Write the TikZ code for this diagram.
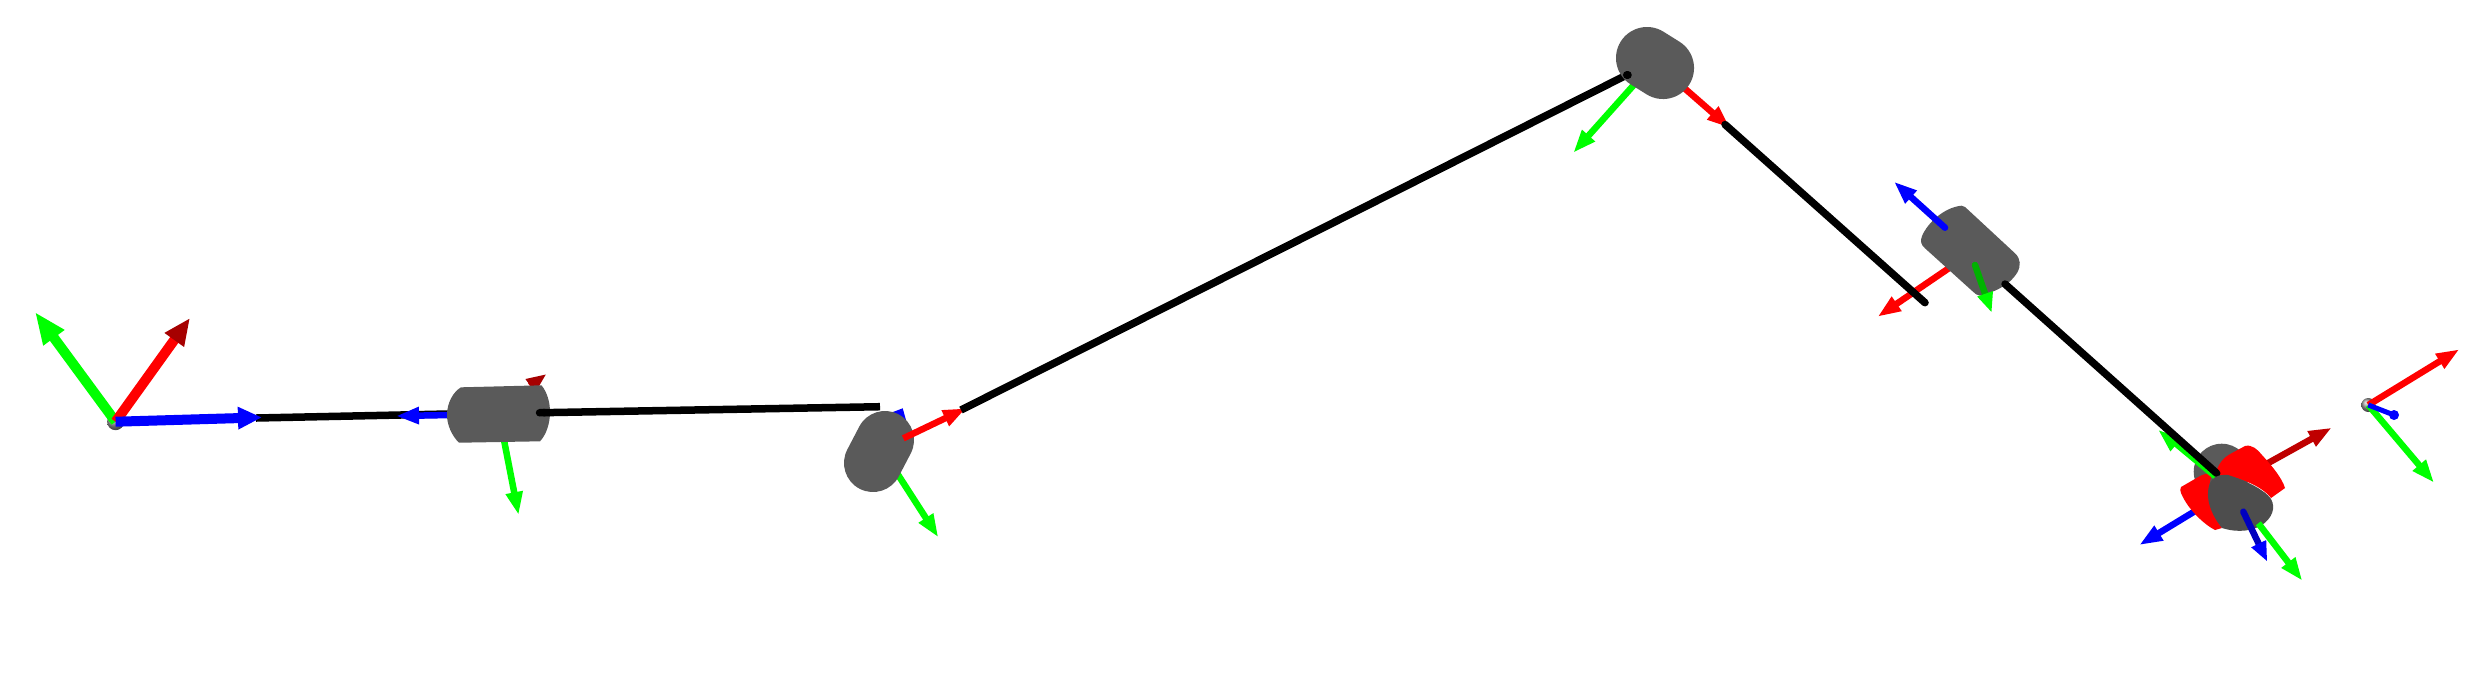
\documentclass[tikz,border=0pt]{standalone}
\usetikzlibrary{arrows.meta,shadings}
\tikzset{
  bigarrow/.style={line width=.1cm,-{Triangle[length=.32cm,width=.24cm]}},
  axisarrow/.style={line width=.065cm,-{Triangle[length=.23cm,width=.16cm]}},
  linkbar/.style={draw=black,line width=.075cm},
  motor/.style={fill=motorgray,draw=none},
  capsule/.style={draw=motorgray,line cap=round},
  tipball/.style={circle,inner sep=0pt,minimum size=.17cm,shading=ball,ball color=gray!80}
}
\definecolor{motorgray}{RGB}{90,90,90}
\definecolor{frontgray}{RGB}{77,77,77}
\begin{document}
\begin{tikzpicture}[x=.01cm,y=-.01cm]
   \useasboundingbox (0,0) rectangle (2488,690);
   \coordinate (baseTip) at (256,418);
   \coordinate (elbowA) at (535.8,412.8);
   \coordinate (elbowAend) at (880,406.7);
   \coordinate (elbowB) at (961,410);
   \coordinate (elbowC) at (1626.7,75);
   \coordinate (elbowD) at (1725,124.5);
   \coordinate (elbowE) at (1925,302.7);
   \coordinate (elbowF) at (2005,284);
   \coordinate (elbowG) at (2216.7,473.3);
   % base frame
   \node[tipball] (base) at (115.6,421.7) {};
   \draw[linkbar] (baseTip) -- (448,414);
   \begin{scope}[bigarrow]
    \draw[green] (base.center) -- (35,312);
    \draw[red,-{Triangle[length=.27cm,width=.22cm,color=red!65!black]}] (base.center) -- (190,318);
    \draw[blue,-{Triangle[length=.24cm,width=.21cm]}] (base.center) -- (262,417.4);
   \end{scope}
   % first joint
   \begin{scope}[axisarrow]
    \draw[blue] (450,415) -- (396,416);
    \draw[red,-{Triangle[length=.2cm,width=.15cm,color=red!65!black]}] (530,386) -- (546.5,374);
    \draw[green] (504,440) -- (518.6,515);
   \end{scope}
   \path[motor] (461,387.3) -- (541.5,385.3) .. controls (547,392) and (550,402) .. (550,412)
     .. controls (550,424) and (546,435) .. (540,441.3) -- (459,442.7)
     .. controls (452,436) and (447,425) .. (447,415) .. controls (447,403) and (453,392) .. (461,387.3) -- cycle;
   \draw[linkbar,{Round Cap[]}-] (elbowA) -- (elbowAend);
   % second joint
   \fill[blue] (885,415) -- (902.7,408.3) -- (906,420) -- cycle;
   \draw[axisarrow,green] (895,470) -- (938.3,537.3);
   \draw[capsule,line width=.58cm] (885,440) -- (873,463);
   \draw[axisarrow,red] (903.3,438.3) -- (966,408.3);
   \draw[linkbar] (elbowB) -- (elbowC);
   % third joint
   \begin{scope}[axisarrow]
    \draw[green] (1640,78) -- (1573.3,152.7);
    \draw[red] (1675,80) -- (1730,128);
   \end{scope}
   \draw[capsule,line width=.62cm] (1647,58) -- (1663,68);
   \draw[linkbar,line cap=round] (1628,75) -- (elbowC);
   % fourth joint
   \draw[axisarrow,red] (1955,264) -- (1877.7,316.7);
   \draw[linkbar,line cap=round] (elbowD) -- (elbowE);
   \path[motor] (1968.3,210) -- (2015,253.3) .. controls (2021,259) and (2021,266) .. (2017,273)
     .. controls (2010,284) and (1998,291) .. (1980,295.7) .. controls (1977,296) and (1975,293) .. (1973,291.7)
     -- (1925,248.3) .. controls (1921,245) and (1920,241) .. (1922,236)
     .. controls (1928,222) and (1945,207) .. (1961.7,205.7) .. controls (1964,205.5) and (1966,208) .. (1968.3,210) -- cycle;
   \begin{scope}[axisarrow,line cap=round]
    \draw[blue] (1945,227.7) -- (1894,181.7);
    \draw[green!70!black,-{Triangle[length=.2cm,width=.15cm,color=green]}] (1975,265) -- (1991.7,312.7);
   \end{scope}
   % wrist
   \fill[motorgray] (2221.7,471.7) circle (28);
   \begin{scope}[axisarrow]
    \draw[blue] (2205,505) -- (2139.3,545);
    \draw[red!75!black] (2263.3,465.7) -- (2331.7,427.7);
   \end{scope}
   \fill[red] (2215,475) .. controls (2218,465) and (2222,458) .. (2232,453) -- (2245,446)
     .. controls (2252,444) and (2258,450) .. (2262,455) .. controls (2272,466) and (2282,478) .. (2285,488)
     -- (2271,498) .. controls (2262,486) and (2240,478) .. (2225,475) -- cycle;
   \fill[red] (2181,487) -- (2200,476) .. controls (2204,474) and (2208,473) .. (2212,474)
     .. controls (2206,490) and (2210,512) .. (2222,528) -- (2215,530)
     .. controls (2205,525) and (2188,510) .. (2181,493) .. controls (2180,491) and (2180,489) .. (2181,487) -- cycle;
   \draw[axisarrow,green,line width=.05cm] (2215,477) -- (2158.3,430);
   \draw[linkbar,line cap=round] (elbowF) -- (elbowG);
   \fill[frontgray] (2210,483) .. controls (2212,478) and (2218,474) .. (2228,475)
     .. controls (2245,480) and (2265,490) .. (2271,499) .. controls (2276,508) and (2272,518) .. (2262,525)
     .. controls (2252,531) and (2238,533) .. (2222,528) .. controls (2212,516) and (2204,498) .. (2210,483) -- cycle;
   \begin{scope}[axisarrow]
    \draw[green] (2258.3,523.3) -- (2302.3,580.7);
    \draw[blue!75!black,line cap=round,-{Triangle[length=.2cm,width=.15cm,color=blue]}] (2243.3,511.7) -- (2267.3,561.7);
   \end{scope}
   % end effector
   \node[tipball,minimum size=.14cm] (tool) at (2368.3,405) {};
   \begin{scope}[axisarrow]
    \draw[red] (tool.center) -- (2459.3,349.3);
    \draw[green] (tool.center) -- (2434,482.7);
   \end{scope}
   \draw[blue,line width=.05cm] (tool.center) -- (2394,415);
   \node[circle,fill=blue,inner sep=0pt,minimum size=.1cm] (toolz) at (2394,415) {};
\end{tikzpicture}
\end{document}
